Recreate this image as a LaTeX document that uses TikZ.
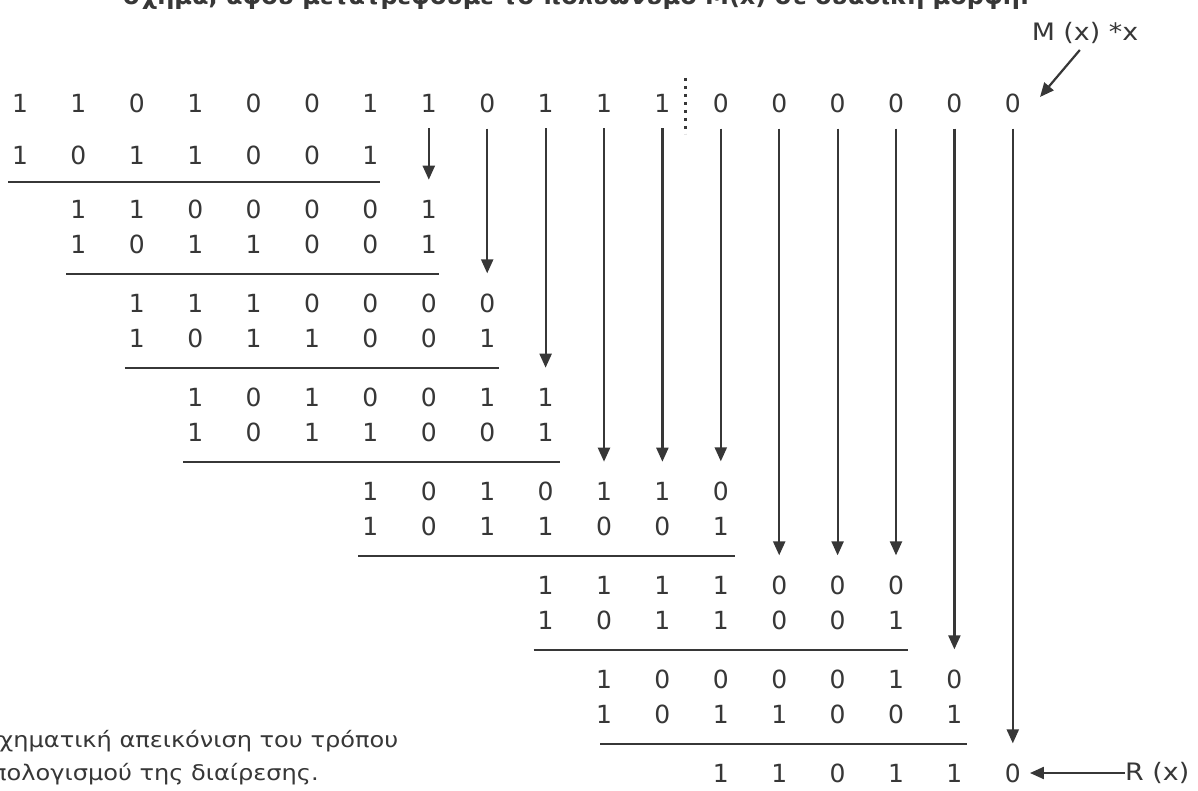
\documentclass[tikz,border=0pt]{standalone}
\usepackage{fontspec}
\setmainfont{DejaVu Sans}
\newfontfamily\widefont[FakeStretch=1.12]{DejaVu Sans}
\usetikzlibrary{arrows.meta,calc}
\definecolor{ink}{RGB}{55,55,55}
\tikzset{
  dig/.style={inner sep=0pt, text=ink, font=\fontsize{25}{25}\selectfont},
  lbl/.style={inner sep=0pt, text=ink, font=\widefont\fontsize{24}{24}\selectfont},
  captxt/.style={inner sep=0pt, text=ink, anchor=base west, font=\widefont\fontsize{21.5}{21.5}\selectfont},
  hdr/.style={inner sep=0pt, text=ink, anchor=base west, font=\bfseries\fontsize{24}{24}\selectfont},
  rulel/.style={draw=ink, line width=2.6pt},
  darr/.style={draw=ink, line width=2.2pt, -{Triangle[length=14pt,width=12pt]}},
  dotl/.style={draw=ink, line width=3pt, dash pattern=on 3pt off 5pt},
}
\newcommand\drow[4]{%
  \foreach \dd [count=\cc from #3] in {#4} {\node[dig] (#1-\cc) at ({20+58.4*\cc},#2) {\dd};}%
}
\begin{document}
\begin{tikzpicture}[x=1pt,y=-1pt]
\useasboundingbox (0,0) rectangle (1198,791);
\fill[white] (0,0) rectangle (1198,791);
% header (cut off at top, as in the reference)
\node[hdr] (hd) at (123,5) {σχήμα, αφού μετατρέψουμε το πολυώνυμο M(x) σε δυαδική μορφή:};
% rows
\drow{r1}{103}{0}{1,1,0,1,0,0,1,1,0,1,1,1,0,0,0,0,0,0}
\drow{r2}{155}{0}{1,0,1,1,0,0,1}
\drow{r3}{209}{1}{1,1,0,0,0,0,1}
\drow{r4}{244}{1}{1,0,1,1,0,0,1}
\drow{r5}{303}{2}{1,1,1,0,0,0,0}
\drow{r6}{338}{2}{1,0,1,1,0,0,1}
\drow{r7}{397}{3}{1,0,1,0,0,1,1}
\drow{r8}{432}{3}{1,0,1,1,0,0,1}
\drow{r9}{491}{6}{1,0,1,0,1,1,0}
\drow{r10}{526}{6}{1,0,1,1,0,0,1}
\drow{r11}{585}{9}{1,1,1,1,0,0,0}
\drow{r12}{620}{9}{1,0,1,1,0,0,1}
\drow{r13}{679}{10}{1,0,0,0,0,1,0}
\drow{r14}{714}{10}{1,0,1,1,0,0,1}
\drow{r15}{773}{12}{1,1,0,1,1,0}
% rules
\draw[rulel] ($(r2-0)+(-12,27)$) -- ($(r2-6)+(10,27)$);
\draw[rulel] ($(r4-1)+(-12,30)$) -- ($(r4-7)+(10,30)$);
\draw[rulel] ($(r6-2)+(-12,30)$) -- ($(r6-8)+(12,30)$);
\draw[rulel] ($(r8-3)+(-12,30)$) -- ($(r8-9)+(14,30)$);
\draw[rulel] ($(r10-6)+(-12,30)$) -- ($(r10-12)+(14,30)$);
\draw[rulel] ($(r12-9)+(-12,30)$) -- ($(r12-15)+(12,30)$);
\draw[rulel] ($(r14-10)+(-4,30)$) -- ($(r14-16)+(13,30)$);
% brought-down arrows
\foreach \cc/\tt in {7/3,8/5,9/7,10/9,11/9,12/9,13/11,14/11,15/11,16/13,17/15}
  {\draw[darr, shorten <=16pt, shorten >=20pt] (r1-\cc) -- (r\tt-\cc);}
% dotted separator
\coordinate (dtop) at (685,78);
\coordinate (dbot) at (685,134);
\draw[dotl] (dtop) -- (dbot);
% M(x)*x label
\node[lbl] (mx) at (1085,33) {M (x) *x};
\coordinate (mxtip) at (1040,97);
\draw[darr, shorten <=8pt] (mx.south) -- (mxtip);
% R(x) label
\node[lbl, anchor=west] (rx) at (1125,773) {R (x)};
\draw[darr, shorten >=9pt] (rx.west) -- (r15-17.east);
% caption (cropped at the left edge, as in the reference)
\node[captxt] (cap1) at (-16,747) {Σχηματική απεικόνιση του τρόπου};
\node[captxt] (cap2) at (-22,780) {υπολογισμού της διαίρεσης.};
\end{tikzpicture}
\end{document}
